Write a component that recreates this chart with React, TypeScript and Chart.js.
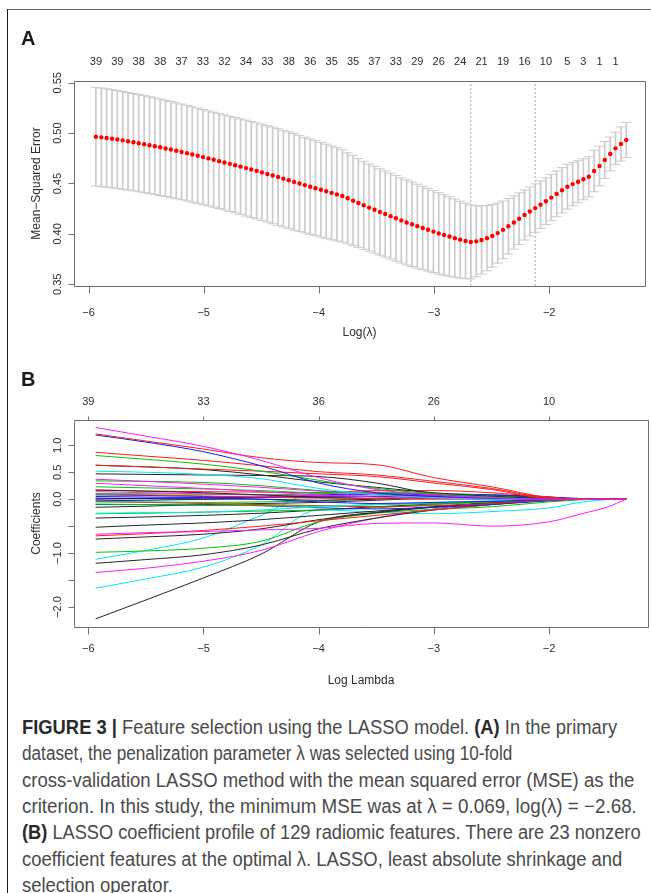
import React, { useEffect, useLayoutEffect, useRef } from 'react';
import { Chart, registerables } from 'chart.js';

Chart.register(...registerables);

// ---- cross-validation curve (panel A) ----
// log(lambda) grid of the fit, from the smallest lambda to the largest
const logLambda = [
  -5.936, -5.889, -5.843, -5.796, -5.750, -5.703, -5.657, -5.610, -5.564, -5.517,
  -5.471, -5.424, -5.378, -5.331, -5.285, -5.238, -5.192, -5.145, -5.099, -5.052,
  -5.006, -4.959, -4.913, -4.866, -4.820, -4.773, -4.727, -4.680, -4.633, -4.587,
  -4.540, -4.494, -4.447, -4.401, -4.354, -4.308, -4.261, -4.215, -4.168, -4.122,
  -4.075, -4.029, -3.982, -3.936, -3.889, -3.843, -3.796, -3.750, -3.703, -3.657,
  -3.610, -3.564, -3.517, -3.470, -3.424, -3.377, -3.331, -3.284, -3.238, -3.191,
  -3.145, -3.098, -3.052, -3.005, -2.959, -2.912, -2.866, -2.819, -2.773, -2.726,
  -2.680, -2.633, -2.587, -2.540, -2.494, -2.447, -2.401, -2.354, -2.307, -2.261,
  -2.214, -2.168, -2.121, -2.075, -2.028, -1.982, -1.935, -1.889, -1.842, -1.796,
  -1.749, -1.703, -1.656, -1.610, -1.563, -1.517, -1.470, -1.424, -1.377, -1.331,
];

// mean cross-validated MSE at each lambda
const cvMean = [
  0.4964, 0.4958, 0.4951, 0.4944, 0.4936, 0.4928, 0.4919, 0.4910, 0.4900, 0.4890,
  0.4880, 0.4870, 0.4859, 0.4848, 0.4837, 0.4825, 0.4813, 0.4801, 0.4788, 0.4775,
  0.4762, 0.4749, 0.4736, 0.4722, 0.4709, 0.4695, 0.4681, 0.4667, 0.4653, 0.4639,
  0.4625, 0.4610, 0.4595, 0.4580, 0.4564, 0.4548, 0.4532, 0.4516, 0.4500, 0.4484,
  0.4468, 0.4453, 0.4438, 0.4423, 0.4407, 0.4392, 0.4376, 0.4353, 0.4330, 0.4307,
  0.4284, 0.4261, 0.4239, 0.4218, 0.4197, 0.4176, 0.4155, 0.4134, 0.4113, 0.4095,
  0.4077, 0.4059, 0.4041, 0.4023, 0.4005, 0.3990, 0.3974, 0.3958, 0.3943, 0.3930,
  0.3920, 0.3926, 0.3940, 0.3958, 0.3980, 0.4008, 0.4040, 0.4076, 0.4113, 0.4150,
  0.4188, 0.4222, 0.4256, 0.4290, 0.4324, 0.4360, 0.4397, 0.4433, 0.4468, 0.4494,
  0.4518, 0.4542, 0.4567, 0.4624, 0.4674, 0.4733, 0.4793, 0.4849, 0.4892, 0.4932,
];

// standard error of the cross-validated MSE
const cvSd = [
  0.0490, 0.0489, 0.0488, 0.0487, 0.0486, 0.0485, 0.0484, 0.0483, 0.0482, 0.0481,
  0.0480, 0.0479, 0.0479, 0.0478, 0.0477, 0.0476, 0.0475, 0.0474, 0.0473, 0.0472,
  0.0472, 0.0471, 0.0471, 0.0471, 0.0471, 0.0472, 0.0473, 0.0474, 0.0475, 0.0476,
  0.0477, 0.0478, 0.0479, 0.0480, 0.0480, 0.0480, 0.0480, 0.0479, 0.0477, 0.0475,
  0.0473, 0.0471, 0.0469, 0.0467, 0.0465, 0.0462, 0.0458, 0.0452, 0.0446, 0.0440,
  0.0436, 0.0432, 0.0430, 0.0428, 0.0427, 0.0426, 0.0425, 0.0423, 0.0422, 0.0419,
  0.0416, 0.0413, 0.0410, 0.0407, 0.0404, 0.0399, 0.0394, 0.0388, 0.0381, 0.0374,
  0.0367, 0.0352, 0.0338, 0.0324, 0.0311, 0.0298, 0.0286, 0.0275, 0.0265, 0.0256,
  0.0248, 0.0243, 0.0240, 0.0236, 0.0232, 0.0229, 0.0227, 0.0225, 0.0222, 0.0215,
  0.0208, 0.0203, 0.0200, 0.0206, 0.0197, 0.0183, 0.0168, 0.0160, 0.0170, 0.0174,
];

// lambda.min (log = -2.68) and lambda.1se positions in the grid
const lambdaMinIdx = 70;
const lambda1seIdx = 82;

// number of nonzero coefficients, printed above the plot at these grid positions
const nzAtIdx = [0, 4, 8, 12, 16, 20, 24, 28, 32, 36, 40, 44, 48, 52, 56, 60, 64, 68, 72, 76, 80, 84, 88, 91, 94, 97];
const nzLabels = ['39', '39', '38', '38', '37', '33', '32', '34', '33', '38', '36', '35', '35', '37', '33', '29', '26', '24', '21', '19', '16', '10', '5', '3', '1', '1'];

const mseTicks = [0.35, 0.40, 0.45, 0.50, 0.55];
const logTicks = [-6, -5, -4, -3, -2];
const logTickLabels = ['\u22126', '\u22125', '\u22124', '\u22123', '\u22122'];

// ---- coefficient profiles (panel B) ----
const pathLogLambda = [-5.936, -5.5, -5.0, -4.5, -4.0, -3.5, -3.0, -2.5, -2.0, -1.7, -1.5, -1.331];
const dfAtTicks = ['39', '33', '36', '26', '10'];
const coefTicks = [-2, -1.5, -1, -0.5, 0, 0.5, 1];
const coefTickLabels = ['\u22122.0', '', '\u22121.0', '', '0.0', '0.5', '1.0'];

const coefPaths: number[][] = [
  [1.33, 1.17, 0.98, 0.72, 0.40, 0.18, 0.08, 0.03, 0, 0, 0, 0],
  [1.21, 1.08, 0.93, 0.77, 0.68, 0.64, 0.40, 0.23, 0.03, 0, 0, 0],
  [1.19, 1.06, 0.88, 0.62, 0.30, 0.12, 0.05, 0.02, 0, 0, 0, 0],
  [0.87, 0.80, 0.72, 0.62, 0.51, 0.45, 0.33, 0.20, 0.02, 0, 0, 0],
  [0.81, 0.74, 0.65, 0.52, 0.35, 0.20, 0.10, 0.04, 0, 0, 0, 0],
  [0.63, 0.60, 0.56, 0.52, 0.47, 0.42, 0.30, 0.18, 0.01, 0, 0, 0],
  [0.63, 0.60, 0.55, 0.45, 0.32, 0.22, 0.12, 0.05, 0, 0, 0, 0],
  [0.52, 0.50, 0.46, 0.38, 0.20, 0.08, 0.03, 0, 0, 0, 0, 0],
  [0.47, 0.46, 0.45, 0.44, 0.42, 0.30, 0.10, 0.05, 0.01, 0, 0, 0],
  [0.37, 0.33, 0.28, 0.22, 0.15, 0.10, 0.06, 0.03, 0, 0, 0, 0],
  [0.34, 0.33, 0.31, 0.25, 0.16, 0.10, 0.05, 0.02, 0, 0, 0, 0],
  [0.295, 0.25, 0.20, 0.14, 0.08, 0.04, 0.02, 0, 0, 0, 0, 0],
  [0.23, 0.21, 0.19, 0.16, 0.12, 0.12, 0.10, 0.06, 0.01, 0, 0, 0],
  [0.17, 0.15, 0.12, 0.08, 0.04, 0.05, 0.07, 0.05, 0.01, 0, 0, 0],
  [0.17, 0.15, 0.14, 0.13, 0.12, 0.16, 0.16, 0.12, 0.04, 0, 0, 0],
  [0.14, 0.12, 0.10, 0.08, 0.06, 0.05, 0.04, 0.02, 0, 0, 0, 0],
  [0.10, 0.10, 0.09, 0.08, 0.10, 0.13, 0.10, 0.05, 0, 0, 0, 0],
  [0.10, 0.08, 0.06, 0.04, 0.02, 0.01, 0, 0, 0, 0, 0, 0],
  [0.08, 0.07, 0.05, 0.03, 0.06, 0.09, 0.10, 0.08, 0.02, 0, 0, 0],
  [0.05, 0.04, 0.03, 0.00, -0.05, -0.08, -0.06, -0.04, -0.01, 0, 0, 0],
  [0.02, 0.01, 0.00, 0.00, -0.02, 0.00, 0.05, 0.08, 0.04, 0, 0, 0],
  [0.00, 0.01, 0.02, 0.03, 0.03, 0.05, 0.08, 0.07, 0.03, 0, 0, 0],
  [0.01, 0.02, 0.03, 0.04, 0.05, 0.06, 0.03, 0.02, 0, 0, 0, 0],
  [-0.26, -0.25, -0.24, -0.20, -0.14, -0.10, -0.06, -0.03, 0, 0, 0, 0],
  [-0.05, -0.05, -0.06, -0.05, -0.03, 0.02, 0.03, 0.01, 0, 0, 0, 0],
  [-0.09, -0.10, -0.11, -0.12, -0.13, -0.10, -0.08, -0.05, -0.01, 0, 0, 0],
  [-0.04, -0.06, -0.08, -0.10, -0.12, -0.14, -0.12, -0.08, -0.02, 0, 0, 0],
  [-0.10, -0.10, -0.11, -0.12, -0.16, -0.18, -0.15, -0.10, -0.03, 0, 0, 0],
  [-0.03, -0.02, 0.00, 0.04, 0.08, 0.10, 0.08, 0.06, 0.04, 0.01, 0, 0],
  [-0.27, -0.26, -0.24, -0.22, -0.20, -0.16, -0.10, -0.05, 0, 0, 0, 0],
  [-0.35, -0.33, -0.30, -0.26, -0.20, -0.14, -0.09, -0.04, 0, 0, 0, 0],
  [-0.15, -0.13, -0.10, -0.08, -0.06, -0.02, 0.02, 0.03, 0.01, 0, 0, 0],
  [-0.52, -0.48, -0.44, -0.38, -0.30, -0.22, -0.14, -0.07, -0.01, 0, 0, 0],
  [-0.65, -0.62, -0.60, -0.57, -0.54, -0.45, -0.44, -0.50, -0.42, -0.26, -0.15, 0],
  [-0.68, -0.64, -0.58, -0.50, -0.40, -0.30, -0.20, -0.10, -0.02, 0, 0, 0],
  [-0.74, -0.70, -0.65, -0.55, -0.38, -0.25, -0.15, -0.07, 0, 0, 0, 0],
  [-0.985, -0.96, -0.91, -0.78, -0.42, -0.26, -0.19, -0.14, -0.05, -0.01, 0, 0],
  [-1.115, -0.95, -0.72, -0.30, 0.12, 0.10, 0.04, 0.01, 0, 0, 0, 0],
  [-1.19, -1.12, -1.03, -0.85, -0.55, -0.35, -0.20, -0.10, -0.02, 0, 0, 0],
  [-1.36, -1.28, -1.15, -0.95, -0.60, -0.35, -0.18, -0.08, -0.01, 0, 0, 0],
  [-1.65, -1.48, -1.26, -0.85, -0.20, -0.24, -0.27, -0.23, -0.16, -0.05, -0.01, 0],
  [-2.22, -1.87, -1.46, -1.02, -0.42, -0.24, -0.14, -0.06, 0, 0, 0, 0],
];

// ---- styling ----
const K = '#262626', RD = '#ff1a1a', GR = '#00c800', BL = '#1a1aff', CY = '#00e8f0', MG = '#ff1aff';
const pathColors = [
  MG, RD, BL, RD, GR, RD, K, CY, K, MG, GR, MG, GR, K, RD, MG, GR, RD, BL, BL, K,
  BL, MG, CY, GR, GR, RD, BL, BL, GR, K, K, K, MG, RD, K, GR, CY, K, MG, CY, K,
];

const FONT = '"Liberation Sans", Arial, Helvetica, sans-serif';
const AXIS = '#707070';
const INK = '#2e2e2e';
const BAR = '#cbcbcb';

type AxisSpec = {
  xTicks: number[]; xLabels: string[];
  yTicks: number[]; yLabels: string[];
  topAt: number[]; topLabels: string[]; topTick: number;
  xTitle: string; yTitle: string;
  xLabelY: number; xTitleY: number; topLabelY: number; yLabelX: number; yTitleX: number;
};

// R-style box, ticks and rotated labels, positioned through the chart's scales
function rAxes(spec: AxisSpec) {
  return {
    id: 'rAxes',
    afterDraw(chart: any) {
      const { ctx, chartArea: a } = chart;
      const xs = chart.scales.x;
      const ys = chart.scales.y;
      const L = Math.round(a.left) + 0.5;
      const R = Math.round(a.right) + 0.5;
      const T = Math.round(a.top) + 0.5;
      const B = Math.round(a.bottom) + 0.5;
      ctx.save();
      ctx.strokeStyle = AXIS;
      ctx.lineWidth = 1;
      ctx.beginPath();
      ctx.rect(L, T, R - L, B - T);
      spec.xTicks.forEach((v) => {
        const p = Math.round(xs.getPixelForValue(v)) + 0.5;
        ctx.moveTo(p, B);
        ctx.lineTo(p, B + 7);
      });
      spec.yTicks.forEach((v) => {
        const p = Math.round(ys.getPixelForValue(v)) + 0.5;
        ctx.moveTo(L, p);
        ctx.lineTo(L - 6, p);
      });
      if (spec.topTick > 0) {
        spec.topAt.forEach((v) => {
          const p = Math.round(xs.getPixelForValue(v)) + 0.5;
          ctx.moveTo(p, T);
          ctx.lineTo(p, T - spec.topTick);
        });
      }
      ctx.stroke();

      ctx.fillStyle = INK;
      ctx.textAlign = 'center';
      ctx.textBaseline = 'middle';
      ctx.font = `11px ${FONT}`;
      spec.xTicks.forEach((v, i) => ctx.fillText(spec.xLabels[i], xs.getPixelForValue(v), spec.xLabelY));
      spec.topAt.forEach((v, i) => ctx.fillText(spec.topLabels[i], xs.getPixelForValue(v), spec.topLabelY));
      spec.yTicks.forEach((v, i) => {
        if (!spec.yLabels[i]) return;
        ctx.save();
        ctx.translate(spec.yLabelX, ys.getPixelForValue(v));
        ctx.rotate(-Math.PI / 2);
        ctx.fillText(spec.yLabels[i], 0, 0);
        ctx.restore();
      });
      ctx.font = `12px ${FONT}`;
      ctx.fillText(spec.xTitle, (a.left + a.right) / 2, spec.xTitleY);
      ctx.save();
      ctx.translate(spec.yTitleX, (a.top + a.bottom) / 2);
      ctx.rotate(-Math.PI / 2);
      ctx.fillText(spec.yTitle, 0, 0);
      ctx.restore();
      ctx.restore();
    },
  };
}

const MSE_MIN = 0.3483;
const MSE_MAX = 0.5517;

function cvConfig(): any {
  const lo = cvMean.map((m, i) => m - cvSd[i]);
  const hi = cvMean.map((m, i) => m + cvSd[i]);
  const vline = (idx: number) => [
    { x: logLambda[idx], y: MSE_MIN },
    { x: logLambda[idx], y: MSE_MAX },
  ];
  return {
    type: 'scatter',
    data: {
      datasets: [
        {
          type: 'scatter',
          data: logLambda.map((x, i) => ({ x, y: cvMean[i] })),
          pointStyle: 'circle',
          pointRadius: 2.2,
          pointBackgroundColor: '#ff0000',
          pointBorderWidth: 0,
          order: 0,
        },
        {
          type: 'scatter',
          data: logLambda.map((x, i) => ({ x, y: hi[i] })),
          pointStyle: 'line',
          pointRadius: 5,
          pointBorderColor: BAR,
          pointBorderWidth: 1,
          order: 1,
        },
        {
          type: 'scatter',
          data: logLambda.map((x, i) => ({ x, y: lo[i] })),
          pointStyle: 'line',
          pointRadius: 5,
          pointBorderColor: BAR,
          pointBorderWidth: 1,
          order: 1,
        },
        {
          type: 'bar',
          data: logLambda.map((x, i) => ({ x, y: [lo[i], hi[i]] })),
          backgroundColor: BAR,
          borderWidth: 0,
          barThickness: 1,
          grouped: false,
          order: 2,
        },
        {
          type: 'scatter',
          data: vline(lambdaMinIdx),
          showLine: true,
          pointRadius: 0,
          borderColor: '#a8a8a8',
          borderWidth: 1,
          borderDash: [2, 2],
          order: 3,
        },
        {
          type: 'scatter',
          data: vline(lambda1seIdx),
          showLine: true,
          pointRadius: 0,
          borderColor: '#a8a8a8',
          borderWidth: 1,
          borderDash: [2, 2],
          order: 3,
        },
      ],
    },
    options: {
      animation: false,
      responsive: false,
      maintainAspectRatio: false,
      events: [],
      layout: { padding: { left: 74, right: 5, top: 81, bottom: 59 } },
      scales: {
        x: { type: 'linear', min: -6.126, max: -1.168, display: false, offset: false },
        y: { type: 'linear', min: MSE_MIN, max: MSE_MAX, display: false, beginAtZero: false },
      },
      plugins: { legend: { display: false }, tooltip: { enabled: false } },
    },
    plugins: [
      rAxes({
        xTicks: logTicks, xLabels: logTickLabels,
        yTicks: mseTicks, yLabels: mseTicks.map((v) => v.toFixed(2)),
        topAt: nzAtIdx.map((i) => logLambda[i]), topLabels: nzLabels, topTick: 0,
        xTitle: 'Log(\u03bb)', yTitle: 'Mean\u2212Squared Error',
        xLabelY: 313, xTitleY: 333, topLabelY: 61.7, yLabelX: 57.5, yTitleX: 36.7,
      }),
    ],
  };
}

function pathConfig(): any {
  return {
    type: 'scatter',
    data: {
      datasets: coefPaths.map((vals, k) => ({
        type: 'scatter',
        data: pathLogLambda.map((x, i) => ({ x, y: vals[i] })),
        showLine: true,
        cubicInterpolationMode: 'monotone',
        pointRadius: 0,
        borderColor: pathColors[k],
        borderWidth: 1,
      })),
    },
    options: {
      animation: false,
      responsive: false,
      maintainAspectRatio: false,
      events: [],
      layout: { padding: { left: 74, right: 3, top: 75, bottom: 73 } },
      scales: {
        x: { type: 'linear', min: -6.124, max: -1.141, display: false },
        y: { type: 'linear', min: -2.371, max: 1.469, display: false },
      },
      plugins: { legend: { display: false }, tooltip: { enabled: false } },
    },
    plugins: [
      rAxes({
        xTicks: logTicks, xLabels: logTickLabels,
        yTicks: coefTicks, yLabels: coefTickLabels,
        topAt: logTicks, topLabels: dfAtTicks, topTick: 4,
        xTitle: 'Log Lambda', yTitle: 'Coefficients',
        xLabelY: 304, xTitleY: 336, topLabelY: 56.7, yLabelX: 57.5, yTitleX: 36.7,
      }),
    ],
  };
}

const captionLines: Array<Array<[string, boolean]>> = [
  [['FIGURE 3 | ', true], ['Feature selection using the LASSO model. ', false], ['(A)', true], [' In the primary', false]],
  [['dataset, the penalization parameter \u03bb was selected using 10-fold', false]],
  [['cross-validation LASSO method with the mean squared error (MSE) as the', false]],
  [['criterion. In this study, the minimum MSE was at \u03bb = 0.069, log(\u03bb) = \u22122.68.', false]],
  [['(B)', true], [' LASSO coefficient profile of 129 radiomic features. There are 23 nonzero', false]],
  [['coefficient features at the optimal \u03bb. LASSO, least absolute shrinkage and', false]],
  [['selection operator.', false]],
];

// right edge of each caption line (0: use the mean width factor of the other lines)
const CAP_RIGHT = [617, 512, 634, 637, 641, 622, 0];
const CAP_LEFT = 22;
const CAP_FIRST_BASELINE = 734;
const CAP_STEP = 26.3;
const CAP_SIZE = 20;
const CAP_FONT = '"Liberation Sans Narrow", "Arial Narrow", "Liberation Sans", Arial, sans-serif';

export default function App() {
  const aRef = useRef<HTMLCanvasElement>(null);
  const bRef = useRef<HTMLCanvasElement>(null);
  const capRefs = useRef<(HTMLDivElement | null)[]>([]);

  useEffect(() => {
    const cv = new Chart(aRef.current as HTMLCanvasElement, cvConfig());
    const paths = new Chart(bRef.current as HTMLCanvasElement, pathConfig());
    return () => {
      cv.destroy();
      paths.destroy();
    };
  }, []);

  useLayoutEffect(() => {
    const fit = () => {
      const els = capRefs.current;
      els.forEach((el) => { if (el) el.style.transform = 'none'; });
      const factors: number[] = els.map((el, i) =>
        el && CAP_RIGHT[i] > 0 ? (CAP_RIGHT[i] - CAP_LEFT) / el.offsetWidth : 0,
      );
      const main = factors.filter((f, i) => f > 0 && i !== 1);
      const mean = main.length ? main.reduce((p, c) => p + c, 0) / main.length : 1;
      els.forEach((el, i) => {
        if (el) el.style.transform = `scaleX(${factors[i] || mean})`;
      });
    };
    fit();
    const fonts = (document as any).fonts;
    if (fonts && fonts.ready) fonts.ready.then(fit);
  }, []);

  return (
    <div
      style={{
        position: 'absolute', left: 0, top: 0, width: 651, height: 893,
        background: '#ffffff', overflow: 'hidden',
      }}
    >
      <div style={{ position: 'absolute', left: 8, top: 9, width: 643, height: 1, background: '#6a6a6a' }} />
      <div style={{ position: 'absolute', left: 7, top: 9, width: 1, height: 884, background: '#1c1c1c' }} />

      <canvas ref={aRef} width={651} height={345} style={{ position: 'absolute', left: 0, top: 0, width: 651, height: 345 }} />
      <canvas ref={bRef} width={651} height={355} style={{ position: 'absolute', left: 0, top: 345, width: 651, height: 355 }} />

      <div style={{ position: 'absolute', left: 21, top: 27.5, font: `bold 20px/20px ${FONT}`, color: '#1a1a1a' }}>A</div>
      <div style={{ position: 'absolute', left: 21, top: 369, font: `bold 20px/20px ${FONT}`, color: '#1a1a1a' }}>B</div>

      {captionLines.map((segs, i) => (
        <div
          key={i}
          ref={(el) => { capRefs.current[i] = el; }}
          style={{
            position: 'absolute',
            left: CAP_LEFT,
            top: CAP_FIRST_BASELINE + i * CAP_STEP - 0.8465 * CAP_SIZE,
            whiteSpace: 'nowrap',
            fontFamily: CAP_FONT,
            fontSize: CAP_SIZE,
            lineHeight: `${CAP_SIZE}px`,
            color: '#4a4a4a',
            transformOrigin: 'left center',
          }}
        >
          {segs.map(([t, b], j) => (
            <span key={j} style={b ? { fontWeight: 700, color: '#2a2a2a' } : undefined}>{t}</span>
          ))}
        </div>
      ))}
    </div>
  );
}
